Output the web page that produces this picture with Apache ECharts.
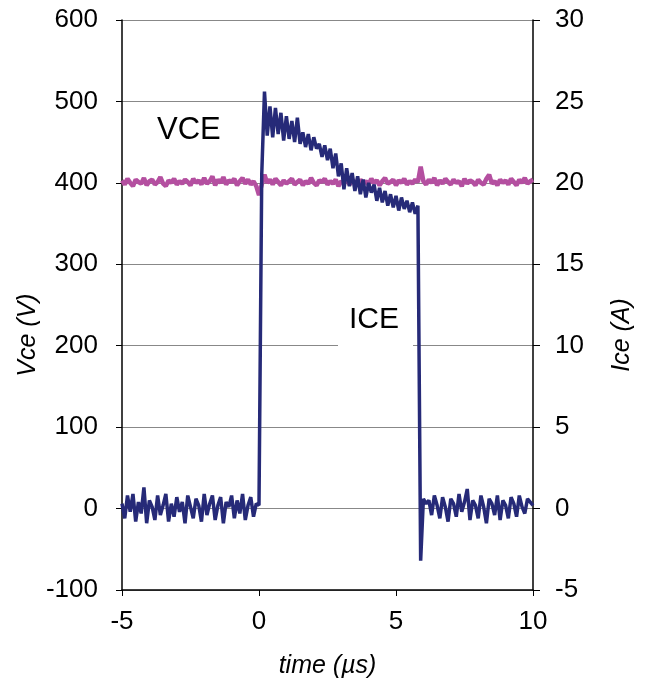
<!DOCTYPE html>
<html>
<head>
<meta charset="utf-8">
<script src="https://cdn.jsdelivr.net/npm/echarts@6/dist/echarts.min.js"></script>
<style>
  html, body { margin: 0; padding: 0; background: #fff; }
  #chart { width: 650px; height: 687px; }
</style>
</head>
<body>
<div id="chart"></div>
<script>
// sample times (µs), one scope sample every 0.1 µs
const timeUs = [
  -5.0, -4.9, -4.8, -4.7, -4.6, -4.5, -4.4, -4.3, -4.2, -4.1,
  -4.0, -3.9, -3.8, -3.7, -3.6, -3.5, -3.4, -3.3, -3.2, -3.1,
  -3.0, -2.9, -2.8, -2.7, -2.6, -2.5, -2.4, -2.3, -2.2, -2.1,
  -2.0, -1.9, -1.8, -1.7, -1.6, -1.5, -1.4, -1.3, -1.2, -1.1,
  -1.0, -0.9, -0.8, -0.7, -0.6, -0.5, -0.4, -0.3, -0.2, -0.1,
  0.0, 0.1, 0.2, 0.3, 0.4, 0.5, 0.6, 0.7, 0.8, 0.9,
  1.0, 1.1, 1.2, 1.3, 1.4, 1.5, 1.6, 1.7, 1.8, 1.9,
  2.0, 2.1, 2.2, 2.3, 2.4, 2.5, 2.6, 2.7, 2.8, 2.9,
  3.0, 3.1, 3.2, 3.3, 3.4, 3.5, 3.6, 3.7, 3.8, 3.9,
  4.0, 4.1, 4.2, 4.3, 4.4, 4.5, 4.6, 4.7, 4.8, 4.9,
  5.0, 5.1, 5.2, 5.3, 5.4, 5.5, 5.6, 5.7, 5.8, 5.9,
  6.0, 6.1, 6.2, 6.3, 6.4, 6.5, 6.6, 6.7, 6.8, 6.9,
  7.0, 7.1, 7.2, 7.3, 7.4, 7.5, 7.6, 7.7, 7.8, 7.9,
  8.0, 8.1, 8.2, 8.3, 8.4, 8.5, 8.6, 8.7, 8.8, 8.9,
  9.0, 9.1, 9.2, 9.3, 9.4, 9.5, 9.6, 9.7, 9.8, 9.9,
  10.0
]

// collector-emitter voltage (V), left axis
const vce = [
  403, 398, 405, 400, 396, 404, 401, 399, 406, 397,
  402, 404, 398, 401, 407, 399, 396, 403, 400, 405,
  398, 402, 399, 404, 401, 397, 405, 400, 403, 398,
  406, 399, 402, 408, 397, 404, 400, 407, 398, 403,
  401, 405, 397, 402, 406, 399, 404, 398, 402, 396,
  385, 398, 410, 400, 404, 398, 405, 401, 397, 403,
  399, 402, 405, 398, 401, 404, 397, 402, 399, 406,
  400, 397, 403, 401, 405, 398, 402, 399, 404, 396,
  402, 400, 405, 398, 403, 401, 397, 404, 399, 402,
  398, 405, 400, 403, 397, 402, 406, 399, 401, 404,
  397, 403, 400, 405, 398, 402, 399, 404, 401, 420,
  402, 398, 404, 400, 406, 397, 403, 399, 405, 401,
  398, 404, 400, 402, 396, 405, 399, 403, 401, 397,
  404, 400, 398, 405, 410, 399, 402, 397, 404, 400,
  403, 398, 405, 401, 397, 404, 400, 406, 399, 402,
  404
]

// collector current (A), right axis
const ice = [
  0.3, -0.6, 0.8, -0.2, 0.9, -0.8, 0.4, -0.3, 1.3, -0.9,
  0.5, 0.1, -0.7, 0.8, -0.4, 0.2, 0.9, -0.8, 0.3, -0.5,
  0.7, -0.2, 0.4, -0.9, 0.8, 0.1, -0.6, 0.6, 0.2, -0.8,
  0.9, -0.4, 0.3, 0.8, -0.7, 0.2, 0.7, -0.9, 0.4, 0.1,
  0.8, -0.6, 0.5, -0.3, 0.9, -0.7, 0.2, 0.7, -0.5, 0.3,
  0.2, 20.5, 25.6, 22.9, 24.7, 22.8, 24.6, 23.0, 24.3, 22.6,
  24.1, 22.7, 23.8, 22.5, 24.0, 22.4, 23.1, 22.2, 23.0, 22.0,
  22.8, 22.1, 22.4, 21.6, 22.3, 21.4, 22.1, 20.9, 21.8, 20.4,
  21.2, 19.6, 20.9, 19.8, 20.6, 19.5, 20.4, 19.3, 20.2, 19.1,
  20.0, 19.4, 19.9, 18.9, 19.7, 18.8, 19.5, 18.6, 19.3, 18.5,
  19.2, 18.3, 19.1, 18.4, 18.9, 18.2, 18.8, 18.1, 18.6, -3.2,
  0.6, 0.3, 0.5, -0.4, 0.8, 0.2, -0.6, 0.7, 0.1, -0.8,
  0.6, 0.3, -0.5, 0.9, -0.2, 0.4, 1.2, -0.7, 0.5, 0.2,
  -0.6, 0.8, 0.1, -0.9, 0.6, 0.3, -0.4, 0.8, -0.7, 0.5,
  0.2, -0.6, 0.7, 0.3, -0.5, 0.8, 0.1, -0.3, 0.6, 0.4,
  0.2
]

const FONT = '"Liberation Sans", Arial, sans-serif'
const labelStyle = { color: '#000', fontSize: 26, fontFamily: FONT }
const nameStyle = { color: '#000', fontSize: 25, fontFamily: FONT, fontStyle: 'italic' }

const chart = echarts.init(document.getElementById('chart'), null, { renderer: 'canvas' })

chart.setOption({
  backgroundColor: '#fff',
  animation: false,
  grid: { left: 122, right: 117, top: 20, bottom: 97 },
  xAxis: {
    type: 'value',
    min: -5, max: 10, interval: 5,
    name: 'time (µs)', nameLocation: 'middle', nameGap: 64, nameTextStyle: nameStyle,
    axisLine: { onZero: false, lineStyle: { color: '#000', width: 1.5 } },
    axisTick: { length: 6, lineStyle: { color: '#000' } },
    axisLabel: { ...labelStyle, margin: 19 },
    splitLine: { show: false },
  },
  yAxis: [
    {
      type: 'value',
      min: -100, max: 600, interval: 100,
      axisLine: { show: true, onZero: false, lineStyle: { color: '#000', width: 1.5 } },
      axisTick: { show: true, length: 6, lineStyle: { color: '#000' } },
      axisLabel: { ...labelStyle, margin: 24 },
      splitLine: { show: true, lineStyle: { color: '#888', width: 1 } },
    },
    {
      type: 'value',
      min: -5, max: 30, interval: 5,
      axisLine: { show: true, onZero: false, lineStyle: { color: '#000', width: 1.5 } },
      axisTick: { show: true, length: 7, lineStyle: { color: '#000' } },
      axisLabel: { ...labelStyle, margin: 22 },
      splitLine: { show: false },
    },
  ],
  series: [
    {
      name: 'VCE',
      type: 'line',
      yAxisIndex: 0,
      showSymbol: false,
      lineStyle: { color: '#B44FA0', width: 4.5 },
      data: timeUs.map((t, i) => [t, vce[i]]),
      z: 2,
    },
    {
      name: 'ICE',
      type: 'line',
      yAxisIndex: 1,
      showSymbol: false,
      lineStyle: { color: '#262A78', width: 3.5 },
      data: timeUs.map((t, i) => [t, ice[i]]),
      z: 3,
    },
  ],
  graphic: [
    {
      type: 'text', x: 28, y: 335, rotation: Math.PI / 2, z: 10,
      style: { text: 'Vce (V)', fill: '#000', font: 'italic 25px ' + FONT, align: 'center', verticalAlign: 'middle' },
    },
    {
      type: 'text', x: 622, y: 335, rotation: Math.PI / 2, z: 10,
      style: { text: 'Ice (A)', fill: '#000', font: 'italic 25px ' + FONT, align: 'center', verticalAlign: 'middle' },
    },
    {
      type: 'text', left: 157, top: 115, z: 10,
      style: { text: 'VCE', fill: '#000', font: '31px ' + FONT },
    },
    {
      type: 'rect', left: 338, top: 300, z: 9,
      shape: { width: 75, height: 50 },
      style: { fill: '#fff' },
    },
    {
      type: 'text', left: 349, top: 305, z: 10,
      style: { text: 'ICE', fill: '#000', font: '30px ' + FONT },
    },
  ],
})
</script>
</body>
</html>
